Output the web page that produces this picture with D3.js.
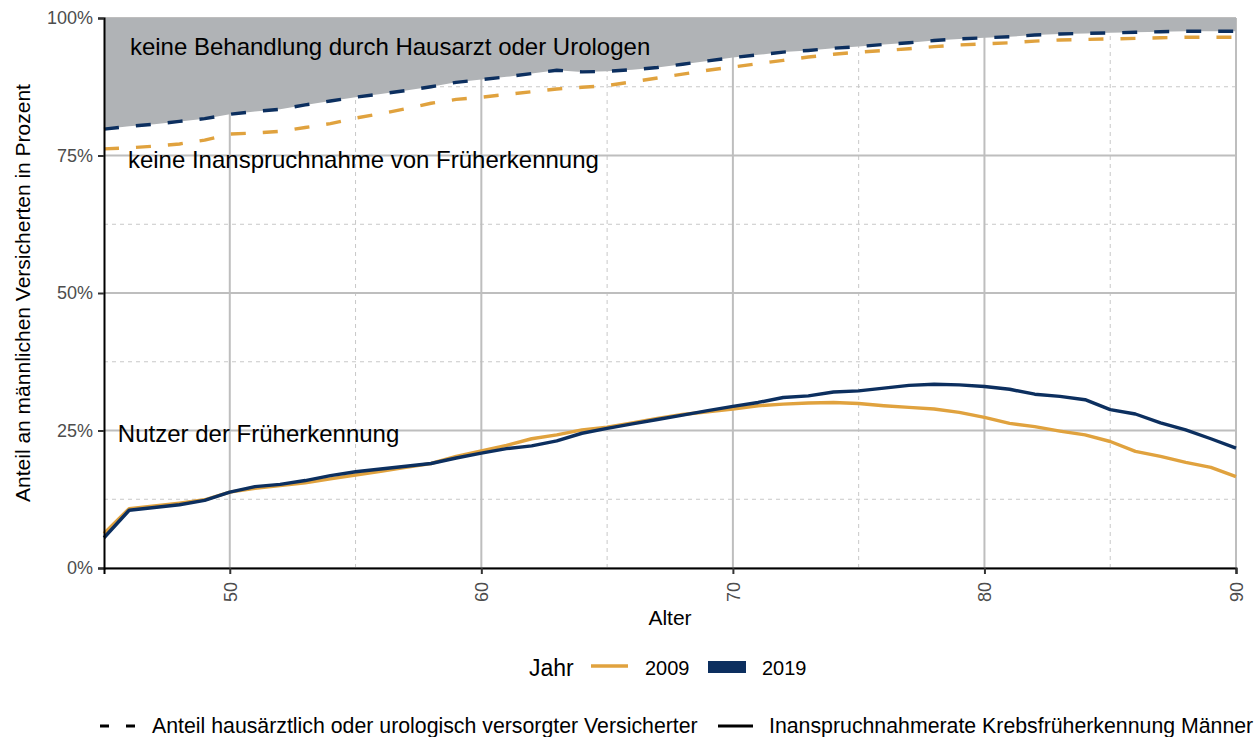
<!DOCTYPE html>
<html lang="de">
<head>
<meta charset="UTF-8">
<title>Früherkennung Männer</title>
<script src="https://d3js.org/d3.v7.min.js"></script>
<style>
    body { margin: 0; background: #fff; }
    svg { font-family: "Liberation Sans", Arial, Helvetica, sans-serif; display: block; }
    .tick text { fill: #4d4d4d; font-size: 18px; font-family: "Liberation Sans", Arial, sans-serif; }
</style>
</head>
<body>
<script>
// ages 45..90
const ages = d3.range(45, 91);

// Anteil hausärztlich oder urologisch versorgter Versicherter (dashed)
const versorgt2009 = [76.2, 76.4, 76.7, 77.1, 77.8, 78.9, 79.1, 79.4, 80.1, 80.8,
    81.8, 82.6, 83.5, 84.5, 85.2, 85.6, 86.1, 86.6, 87.1, 87.4,
    87.7, 88.4, 89.1, 89.8, 90.5, 91.1, 91.7, 92.3, 92.9, 93.4,
    93.8, 94.1, 94.4, 94.8, 95.1, 95.3, 95.5, 95.8, 96.0, 96.1,
    96.2, 96.3, 96.4, 96.5, 96.5, 96.5];
const versorgt2019 = [79.8, 80.3, 80.7, 81.2, 81.7, 82.5, 83.0, 83.4, 84.2, 84.9,
    85.6, 86.2, 86.8, 87.5, 88.3, 88.8, 89.3, 89.9, 90.5, 90.2,
    90.3, 90.6, 91.0, 91.6, 92.2, 92.8, 93.3, 93.8, 94.1, 94.5,
    94.8, 95.2, 95.5, 95.9, 96.2, 96.4, 96.6, 96.9, 97.1, 97.2,
    97.3, 97.4, 97.5, 97.6, 97.6, 97.6];

// Inanspruchnahmerate Krebsfrüherkennung Männer (solid)
const nutzer2009 = [6.3, 10.8, 11.3, 11.8, 12.4, 13.8, 14.5, 15.0, 15.5, 16.2,
    16.9, 17.6, 18.3, 19.0, 20.3, 21.3, 22.3, 23.5, 24.2, 25.1,
    25.6, 26.4, 27.2, 27.9, 28.4, 28.9, 29.5, 29.8, 30.0, 30.1,
    29.9, 29.5, 29.2, 28.9, 28.3, 27.4, 26.3, 25.7, 24.9, 24.2,
    23.0, 21.2, 20.3, 19.2, 18.3, 16.6];
const nutzer2019 = [5.5, 10.5, 11.0, 11.5, 12.3, 13.8, 14.8, 15.2, 15.9, 16.8,
    17.5, 18.0, 18.5, 19.0, 20.0, 20.9, 21.7, 22.2, 23.1, 24.5,
    25.4, 26.2, 27.0, 27.8, 28.6, 29.4, 30.1, 31.0, 31.3, 32.0,
    32.2, 32.7, 33.2, 33.4, 33.3, 33.0, 32.5, 31.6, 31.2, 30.6,
    28.8, 28.0, 26.4, 25.1, 23.5, 21.8];

const years = ["2009", "2019"];
const colors = { "2009": "#e0a23e", "2019": "#0c2f5f" };

const xMajor = [50, 60, 70, 80, 90];
const xMinor = [55, 65, 75, 85];
const yMajor = [0, 25, 50, 75, 100];
const yMinor = [12.5, 37.5, 62.5, 87.5];

const W = 1255, H = 737;
const margin = { top: 18, right: 19, bottom: 169, left: 104 };

const svg = d3.select("body").append("svg")
    .attr("width", W).attr("height", H);

const x = d3.scaleLinear().domain([45, 90]).range([margin.left, W - margin.right]);
const y = d3.scaleLinear().domain([0, 100]).range([H - margin.bottom, margin.top]);

// grid
const grid = svg.append("g");
grid.selectAll(".ymin").data(yMinor).enter().append("line")
    .attr("x1", x(45)).attr("x2", x(90))
    .attr("y1", d => y(d)).attr("y2", d => y(d))
    .attr("stroke", "#c8c8c8").attr("stroke-width", 1).attr("stroke-dasharray", "4,4");
grid.selectAll(".xmin").data(xMinor).enter().append("line")
    .attr("x1", d => x(d)).attr("x2", d => x(d))
    .attr("y1", y(0)).attr("y2", y(100))
    .attr("stroke", "#c8c8c8").attr("stroke-width", 1).attr("stroke-dasharray", "4,4");
grid.selectAll(".ymaj").data(yMajor).enter().append("line")
    .attr("x1", x(45)).attr("x2", x(90))
    .attr("y1", d => y(d)).attr("y2", d => y(d))
    .attr("stroke", "#bebebe").attr("stroke-width", 2);
grid.selectAll(".xmaj").data(xMajor).enter().append("line")
    .attr("x1", d => x(d)).attr("x2", d => x(d))
    .attr("y1", y(0)).attr("y2", y(100))
    .attr("stroke", "#bebebe").attr("stroke-width", 2);

// grey area: not treated by GP or urologist (above 2019 coverage)
const area = d3.area()
    .x((d, i) => x(ages[i]))
    .y0(y(100))
    .y1(d => y(d));
svg.append("path").datum(versorgt2019)
    .attr("d", area)
    .attr("fill", "#b0b3b6");

const line = d3.line().x((d, i) => x(ages[i])).y(d => y(d));

const series = [
    { vals: versorgt2009, year: "2009", dash: true },
    { vals: versorgt2019, year: "2019", dash: true },
    { vals: nutzer2009, year: "2009", dash: false },
    { vals: nutzer2019, year: "2019", dash: false }
];
svg.selectAll(".series").data(series).enter().append("path")
    .attr("d", d => line(d.vals))
    .attr("fill", "none")
    .attr("stroke", d => colors[d.year])
    .attr("stroke-width", 3.4)
    .attr("stroke-linejoin", "round")
    .attr("stroke-dasharray", d => d.dash ? "15,17" : null);

// axes
const yAxis = svg.append("g")
    .attr("transform", `translate(${margin.left},0)`)
    .call(d3.axisLeft(y).tickValues(yMajor).tickFormat(d => d + "%").tickSize(6).tickPadding(5));
yAxis.select(".domain").attr("stroke", "#000").attr("stroke-width", 2);
yAxis.selectAll(".tick line").attr("stroke", "#333").attr("stroke-width", 2);

const xAxis = svg.append("g")
    .attr("transform", `translate(0,${y(0)})`)
    .call(d3.axisBottom(x).tickValues(xMajor).tickSize(6));
xAxis.select(".domain").attr("stroke", "#000").attr("stroke-width", 2);
xAxis.selectAll(".tick line").attr("stroke", "#333").attr("stroke-width", 2);
xAxis.selectAll(".tick text")
    .attr("transform", "rotate(-90)")
    .attr("x", -14).attr("y", 0).attr("dy", "0.35em")
    .attr("text-anchor", "end");

// axis titles
svg.append("text")
    .attr("transform", `translate(30,${y(50)}) rotate(-90)`)
    .attr("text-anchor", "middle")
    .attr("font-size", 21)
    .text("Anteil an männlichen Versicherten in Prozent");
svg.append("text")
    .attr("x", x(67.5)).attr("y", 625)
    .attr("text-anchor", "middle")
    .attr("font-size", 21)
    .text("Alter");

// annotations
const notes = [
    { t: "keine Behandlung durch Hausarzt oder Urologen", xv: 46.03, yv: 93.3 },
    { t: "keine Inanspruchnahme von Früherkennung", xv: 45.95, yv: 72.7 },
    { t: "Nutzer der Früherkennung", xv: 45.55, yv: 22.9 }
];
svg.selectAll(".note").data(notes).enter().append("text")
    .attr("x", d => x(d.xv)).attr("y", d => y(d.yv))
    .attr("font-size", 24)
    .attr("fill", "#000")
    .text(d => d.t);

// legend: Jahr
const lg = svg.append("g").attr("font-size", 20);
lg.append("text").attr("x", 529).attr("y", 676).attr("font-size", 23).text("Jahr");
lg.append("line").attr("x1", 591).attr("x2", 628).attr("y1", 666).attr("y2", 666)
    .attr("stroke", colors["2009"]).attr("stroke-width", 3.5);
lg.append("text").attr("x", 645).attr("y", 675).text(years[0]);
lg.append("rect").attr("x", 708).attr("y", 661).attr("width", 38).attr("height", 12)
    .attr("fill", colors["2019"]);
lg.append("text").attr("x", 762).attr("y", 675).text(years[1]);

// legend: line types
const lt = svg.append("g").attr("font-size", 21.3);
lt.append("line").attr("x1", 100).attr("x2", 136).attr("y1", 726).attr("y2", 726)
    .attr("stroke", "#000").attr("stroke-width", 3).attr("stroke-dasharray", "9,17");
lt.append("text").attr("x", 152).attr("y", 733)
    .text("Anteil hausärztlich oder urologisch versorgter Versicherter");
lt.append("line").attr("x1", 718).attr("x2", 753).attr("y1", 726).attr("y2", 726)
    .attr("stroke", "#000").attr("stroke-width", 3);
lt.append("text").attr("x", 769).attr("y", 733)
    .text("Inanspruchnahmerate Krebsfrüherkennung Männer");
</script>
</body>
</html>
